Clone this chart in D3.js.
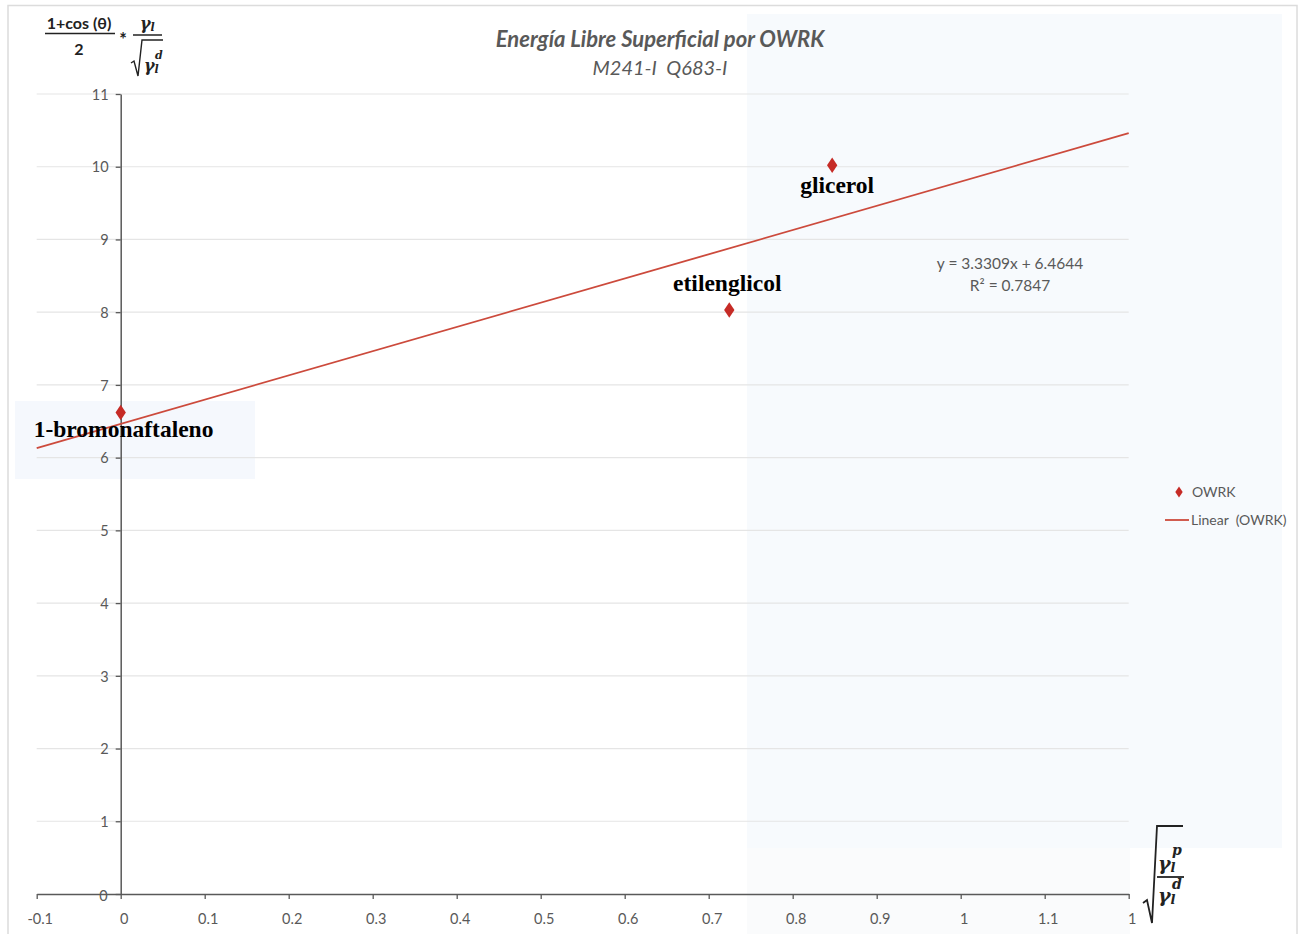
<!DOCTYPE html>
<html>
<head>
<meta charset="utf-8">
<script src="https://cdn.jsdelivr.net/npm/d3@7"></script>
<style>
  html, body { margin: 0; padding: 0; background: #ffffff; }
  svg { display: block; }
  text { white-space: pre; }
</style>
</head>
<body>
<svg id="chart" width="1304" height="934"></svg>
<script>
// Liquids measured and their OWRK coordinates
const liquids = ["1-bromonaftaleno", "etilenglicol", "glicerol"];
const xValues = [0, 0.7245, 0.847];     // sqrt(γp/γd)
const yValues = [6.62, 8.03, 10.02];    // (1+cosθ)/2 · γ/√γd

// Linear trendline fitted to the series
const slope = 3.3309;
const intercept = 6.4644;
const rSquared = 0.7847;

// Axis ticks
const xTickValues = [-0.1, 0, 0.1, 0.2, 0.3, 0.4, 0.5, 0.6, 0.7, 0.8, 0.9, 1, 1.1, 1.2];
const xTickLabels = ["-0.1", "0", "0.1", "0.2", "0.3", "0.4", "0.5", "0.6", "0.7", "0.8", "0.9", "1", "1.1", "1"];
const yTickValues = [0, 1, 2, 3, 4, 5, 6, 7, 8, 9, 10, 11];

const titleText = "Energía Libre Superficial por OWRK";
const subtitleText = "M241-I  Q683-I";
const seriesName = "OWRK";
const trendName = "Linear  (OWRK)";

const svg = d3.select("#chart");
const axisGray = "#595959";
const red = "#c62b26";
const trendRed = "#cc4a3c";
const uiFont = "Lato, 'Open Sans', sans-serif";

const x = d3.scaleLinear().domain([-0.1, 1.2]).range([36.7, 1128.7]);
const y = d3.scaleLinear().domain([0, 11]).range([894, 94]);

// Outer chart frame
svg.append("rect").attr("x", 8).attr("y", 5.5).attr("width", 1289).attr("height", 940)
  .attr("fill", "#ffffff").attr("stroke", "#dcdcdc").attr("stroke-width", 1.5);

// Faint tinted background panels
const tint = svg.append("g");
tint.append("rect").attr("x", 747).attr("y", 14).attr("width", 535).attr("height", 834).attr("fill", "#f7fafd");
tint.append("rect").attr("x", 747).attr("y", 848).attr("width", 383).attr("height", 86).attr("fill", "#fafbfc");
tint.append("rect").attr("x", 15).attr("y", 401).attr("width", 240).attr("height", 78).attr("fill", "#f5f8fd");

// Horizontal gridlines
svg.append("g").selectAll("line").data(yTickValues.filter(d => d > 0)).join("line")
  .attr("x1", x(-0.1)).attr("x2", x(1.2))
  .attr("y1", d => y(d)).attr("y2", d => y(d))
  .attr("stroke", "#e5e5e5").attr("stroke-width", 1.2);

// X axis
const xAxis = svg.append("g").attr("transform", `translate(0,${y(0)})`)
  .call(d3.axisBottom(x).tickValues(xTickValues)
    .tickFormat((d, i) => xTickLabels[i]).tickSizeInner(5).tickSizeOuter(0).tickPadding(15));
xAxis.select(".domain").attr("stroke", axisGray).attr("stroke-width", 1.5);
xAxis.selectAll(".tick line").attr("stroke", axisGray).attr("stroke-width", 1.3);
xAxis.selectAll("text").attr("fill", axisGray).attr("dx", 3)
  .style("font-family", uiFont).style("font-size", "14.5px");

// Y axis (crosses at x = 0)
const yAxis = svg.append("g").attr("transform", `translate(${x(0)},0)`)
  .call(d3.axisLeft(y).tickValues(yTickValues).tickSizeInner(5).tickSizeOuter(0).tickPadding(6));
yAxis.select(".domain").attr("stroke", axisGray).attr("stroke-width", 1.5);
yAxis.selectAll(".tick line").attr("stroke", axisGray).attr("stroke-width", 1.3);
yAxis.selectAll("text").attr("fill", axisGray).style("font-family", uiFont).style("font-size", "14.5px")
  .attr("dy", "0.36em").attr("x", -12);
yAxis.selectAll(".tick").filter(d => d === 0).select("text").attr("x", -13).attr("dy", "0.45em");

// Trendline
svg.append("line")
  .attr("x1", x(-0.1)).attr("y1", y(slope * -0.1 + intercept))
  .attr("x2", x(1.2)).attr("y2", y(slope * 1.2 + intercept))
  .attr("stroke", trendRed).attr("stroke-width", 1.8);

// Data points
const diamond = d3.symbol().type(d3.symbolDiamond).size(70);
svg.append("g").selectAll("path").data(xValues).join("path")
  .attr("d", diamond)
  .attr("transform", (d, i) => `translate(${x(d)},${y(yValues[i])}) scale(1.15,1)`)
  .attr("fill", red);

// Point labels
const labelPos = [
  { dx: -87, dy: 24, anchor: "start" },
  { dx: -2, dy: -19, anchor: "middle" },
  { dx: 5, dy: 28, anchor: "middle" }
];
svg.append("g").selectAll("text").data(liquids).join("text")
  .attr("x", (d, i) => x(xValues[i]) + labelPos[i].dx)
  .attr("y", (d, i) => y(yValues[i]) + labelPos[i].dy)
  .attr("text-anchor", (d, i) => labelPos[i].anchor)
  .style("font-family", "'Liberation Serif', 'Times New Roman', serif")
  .style("font-weight", "bold").style("font-size", "23.5px")
  .attr("fill", "#000000")
  .text(d => d);

// Title
svg.append("text").attr("x", 660).attr("y", 47).attr("text-anchor", "middle")
  .style("font-family", uiFont).style("font-weight", "bold").style("font-style", "italic")
  .style("font-size", "22px").attr("fill", axisGray).text(titleText);
svg.append("text").attr("x", 660).attr("y", 75).attr("text-anchor", "middle")
  .style("font-family", uiFont).style("font-style", "italic")
  .style("font-size", "20px").attr("fill", axisGray).text(subtitleText);

// Trendline equation
const fmt = d3.format(".4f");
svg.append("text").attr("x", 1010).attr("y", 269).attr("text-anchor", "middle")
  .style("font-family", uiFont).style("font-size", "15.5px").attr("fill", axisGray)
  .text(`y = ${fmt(slope)}x + ${fmt(intercept)}`);
svg.append("text").attr("x", 1010).attr("y", 291).attr("text-anchor", "middle")
  .style("font-family", uiFont).style("font-size", "15.5px").attr("fill", axisGray)
  .text(`R² = ${fmt(rSquared)}`);

// Legend
const legend = svg.append("g");
legend.append("path").attr("d", d3.symbol().type(d3.symbolDiamond).size(36))
  .attr("transform", "translate(1179,492) scale(1.15,1)").attr("fill", red);
legend.append("text").attr("x", 1192).attr("y", 497)
  .style("font-family", uiFont).style("font-size", "14px").attr("fill", axisGray).text(seriesName);
legend.append("line").attr("x1", 1165).attr("x2", 1189).attr("y1", 520).attr("y2", 520)
  .attr("stroke", trendRed).attr("stroke-width", 1.8);
legend.append("text").attr("x", 1191).attr("y", 525)
  .style("font-family", uiFont).style("font-size", "14px").attr("fill", axisGray).text(trendName);

// Y-axis title: (1+cos θ)/2 * γl/√γl^d
const mathFont = "'DejaVu Serif', 'Liberation Serif', serif";
const yt = svg.append("g").attr("fill", "#222222");
yt.append("text").attr("x", 79).attr("y", 29).attr("text-anchor", "middle")
  .style("font-family", uiFont).style("font-weight", "bold").style("font-size", "16px")
  .text("1+cos (θ)");
yt.append("line").attr("x1", 45).attr("x2", 115).attr("y1", 33.5).attr("y2", 33.5)
  .attr("stroke", "#222").attr("stroke-width", 1.5);
yt.append("text").attr("x", 79).attr("y", 55).attr("text-anchor", "middle")
  .style("font-family", uiFont).style("font-weight", "bold").style("font-size", "16px").text("2");
yt.append("text").attr("x", 123).attr("y", 46).attr("text-anchor", "middle")
  .style("font-family", uiFont).style("font-weight", "bold").style("font-size", "18px").text("*");
const g1 = yt.append("text").attr("x", 140).attr("y", 29)
  .style("font-family", mathFont).style("font-style", "italic").style("font-weight", "bold").style("font-size", "16px");
g1.append("tspan").text("γ");
g1.append("tspan").attr("dy", 2).style("font-size", "11px").text("l");
yt.append("line").attr("x1", 133).attr("x2", 162).attr("y1", 35).attr("y2", 35)
  .attr("stroke", "#222").attr("stroke-width", 1.5);
yt.append("path").attr("d", "M131,63 L134,61 L138,76 L142,40 L163,40")
  .attr("fill", "none").attr("stroke", "#222").attr("stroke-width", 1.4);
const g2 = yt.append("text").attr("x", 144).attr("y", 71)
  .style("font-family", mathFont).style("font-style", "italic").style("font-weight", "bold").style("font-size", "16px");
g2.append("tspan").text("γ");
g2.append("tspan").attr("dy", 2).style("font-size", "11px").text("l");
yt.append("text").attr("x", 155).attr("y", 59)
  .style("font-family", mathFont).style("font-style", "italic").style("font-weight", "bold").style("font-size", "11px").text("d");

// X-axis title: √(γl^p / γl^d)
const xt = svg.append("g").attr("fill", "#222222");
xt.append("path").attr("d", "M1143,903 L1147,900 L1152,923 L1157,826 L1183,826")
  .attr("fill", "none").attr("stroke", "#222").attr("stroke-width", 1.8);
const n1 = xt.append("text").attr("x", 1158).attr("y", 870)
  .style("font-family", mathFont).style("font-style", "italic").style("font-weight", "bold").style("font-size", "19px");
n1.append("tspan").text("γ");
n1.append("tspan").attr("dy", 2).style("font-size", "13px").text("l");
xt.append("text").attr("x", 1172).attr("y", 855)
  .style("font-family", mathFont).style("font-style", "italic").style("font-weight", "bold").style("font-size", "14px").text("p");
xt.append("line").attr("x1", 1157).attr("x2", 1184).attr("y1", 877).attr("y2", 877)
  .attr("stroke", "#222").attr("stroke-width", 1.8);
const d1 = xt.append("text").attr("x", 1158).attr("y", 902)
  .style("font-family", mathFont).style("font-style", "italic").style("font-weight", "bold").style("font-size", "19px");
d1.append("tspan").text("γ");
d1.append("tspan").attr("dy", 2).style("font-size", "13px").text("l");
xt.append("text").attr("x", 1172).attr("y", 889)
  .style("font-family", mathFont).style("font-style", "italic").style("font-weight", "bold").style("font-size", "14px").text("d");
</script>
</body>
</html>
